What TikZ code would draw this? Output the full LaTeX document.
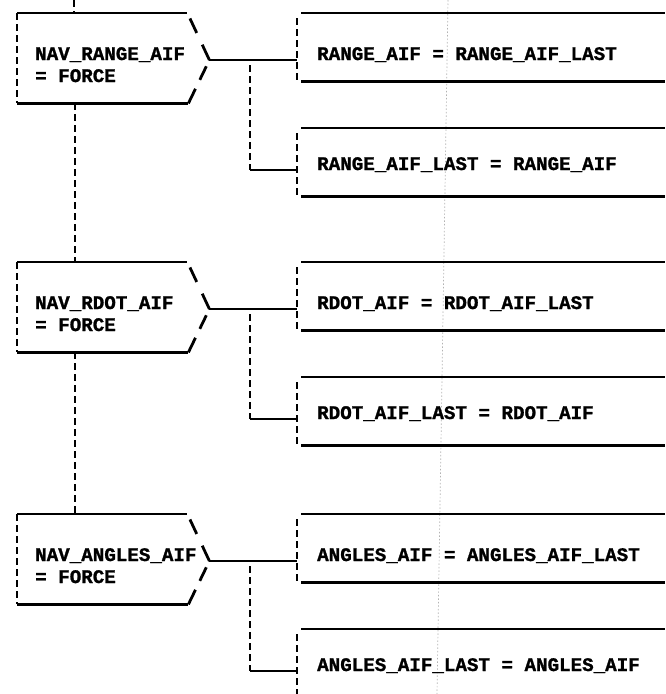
\documentclass[tikz,border=0pt]{standalone}
\usepackage{fontspec}
\newfontfamily\prfont{Liberation Mono}[BoldFeatures={FakeBold=1.2}]
\begin{document}
\begin{tikzpicture}[x=1pt,y=1pt,
  hline/.style={line width=2.8pt, black},
  vline/.style={line width=2.8pt, black, dash pattern=on 7pt off 4pt},
  upslant/.style={line width=2.8pt, black, dash pattern=on 0pt off 6pt on 16pt off 13pt on 20pt off 10pt},
  loslant/.style={line width=2.8pt, black, dash pattern=on 0pt off 7pt on 15pt off 10pt on 20pt off 10pt},
  decbox/.style={rectangle, inner sep=0pt, minimum width=170pt, minimum height=90pt, anchor=north west},
  actbox/.style={rectangle, inner sep=0pt, minimum width=368pt, minimum height=68pt, anchor=north west},
  txt/.style={font={\prfont\bfseries\fontsize{19.2}{22}\selectfont}, inner sep=0pt, align=left, anchor=base west},
  stray/.style={gray!60, line width=0.7pt, dash pattern=on 1.5pt off 2pt}]
\useasboundingbox (0,0) rectangle (665,-694);
\clip (0,0) rectangle (665,-694);

% faint stray scan line
\coordinate (sa) at (448,0);
\coordinate (sb) at (437,-694);
\draw[stray] (sa) -- (sb);

\foreach \i/\T/\dt/\ta/\tb in {
  1/13/{NAV\_RANGE\_AIF\\= FORCE}/{RANGE\_AIF = RANGE\_AIF\_LAST}/{RANGE\_AIF\_LAST = RANGE\_AIF},
  2/262/{NAV\_RDOT\_AIF\\= FORCE}/{RDOT\_AIF = RDOT\_AIF\_LAST}/{RDOT\_AIF\_LAST = RDOT\_AIF},
  3/514/{NAV\_ANGLES\_AIF\\= FORCE}/{ANGLES\_AIF = ANGLES\_AIF\_LAST}/{ANGLES\_AIF\_LAST = ANGLES\_AIF}}{
  % decision box
  \node[decbox] (d\i) at (17,-\T) {};
  \node[txt] (dl\i) at (35,{-(\T+69)}) {\dt};
  \draw[hline] (d\i.north west) -- (d\i.north east);
  \draw[hline] (d\i.south west) -- ([xshift=1pt]d\i.south east);
  \draw[vline] (d\i.north west) -- (d\i.south west);
  \coordinate (tip\i) at ([xshift=22pt,yshift=-47pt]d\i.north east);
  \draw[upslant] (d\i.north east) -- (tip\i);
  \draw[loslant] (tip\i) -- ([xshift=1pt]d\i.south east);
  % action boxes
  \node[actbox] (ra\i) at (297,-\T) {};
  \node[actbox] (rb\i) at (297,{-(\T+115)}) {};
  \node[txt] (tal\i) at (317,{-(\T+47)}) {\ta};
  \node[txt] (tbl\i) at (317,{-(\T+157)}) {\tb};
  \foreach \r in {ra\i,rb\i}{
    \draw[hline] ([xshift=4pt]\r.north west) -- (\r.north east);
    \draw[hline] ([xshift=4pt]\r.south west) -- (\r.south east);
    \draw[vline] ([yshift=-5pt]\r.north west) -- (\r.south west);
  }
  % connectors
  \draw[hline] (tip\i) -- (tip\i -| ra\i.west);
  \coordinate (j\i) at (250,{-(\T+157)});
  \draw[vline] ([yshift=-5pt]tip\i -| j\i) -- (j\i);
  \draw[hline] (j\i) -- (j\i -| rb\i.west);
}
% vertical links between decision boxes
\coordinate (top) at (74,0);
\draw[vline] (top) -- (top |- d1.north);
\draw[vline] ([xshift=58pt]d1.south west) -- ([xshift=58pt]d2.north west);
\draw[vline] ([xshift=58pt]d2.south west) -- ([xshift=58pt]d3.north west);
\end{tikzpicture}
\end{document}
